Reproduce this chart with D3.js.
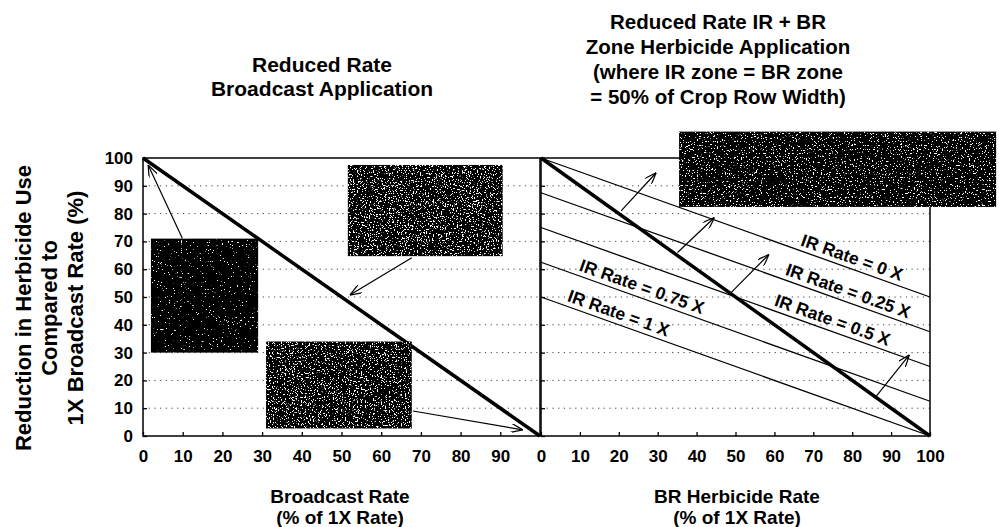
<!DOCTYPE html>
<html>
<head>
<meta charset="utf-8">
<script src="https://cdn.jsdelivr.net/npm/d3@7"></script>
<style>
  body { margin: 0; background: #fff; }
  svg text { font-family: "Liberation Sans", Arial, sans-serif; font-weight: bold; fill: #000; }
</style>
</head>
<body>
<div id="chart"></div>
<script>
// tick values
const xTicksLeft = [0, 10, 20, 30, 40, 50, 60, 70, 80, 90];
const xTicksRight = [0, 10, 20, 30, 40, 50, 60, 70, 80, 90, 100];
const yTicks = [0, 10, 20, 30, 40, 50, 60, 70, 80, 90, 100];
const gridTicks = [10, 20, 30, 40, 50, 60, 70, 80, 90];

// reduced rate broadcast: reduction at 0% and 100% rate
const broadcastRate = [0, 100];
const broadcastReduction = [100, 0];

// IR + BR zone lines, reduction at BR rate 0 and 100
const irLabels = ["IR Rate = 0 X", "IR Rate = 0.25 X", "IR Rate = 0.5 X", "IR Rate = 0.75 X", "IR Rate = 1 X"];
const irAtBr0 = [100, 87.5, 75, 62.5, 50];
const irAtBr100 = [50, 37.5, 25, 12.5, 0];
const irLabelAt = [79, 78, 74, 25, 19];

// callout boxes [x0, y0, x1, y1] in data units
const leftBoxes = [[2, 30, 29, 71], [51.6, 64.7, 90.6, 97.5], [31, 2.7, 67.7, 34]];
const rightBoxes = [[35.5, 82.4, 117, 109.5]];
const boxDensity = [0.7, 0.6, 0.6, 0.64];

// arrows [fromX, fromY, toX, toY]
const leftArrows = [[9.9, 71.1, 1.3, 97.5], [67.7, 64.1, 52.1, 50.7], [68, 9, 95.7, 2.2]];
const rightArrows = [[20.6, 81, 29.6, 94.7], [35.1, 66, 44.6, 78.6], [48.8, 51.5, 58.6, 65.3], [86.1, 14.2, 94.7, 29.2]];

let svg = d3.select("#chart")
  .append("svg")
  .attr("width", 999)
  .attr("height", 527);

let defs = svg.append("defs");

defs.append("marker")
  .attr("id", "arrow")
  .attr("viewBox", "0 0 12 9")
  .attr("refX", 12)
  .attr("refY", 4.5)
  .attr("markerWidth", 12)
  .attr("markerHeight", 9)
  .attr("markerUnits", "userSpaceOnUse")
  .attr("orient", "auto")
  .append("path")
  .attr("d", "M0,0 L12,4.5 L0,9")
  .attr("fill", "none")
  .attr("stroke", "#000")
  .attr("stroke-width", 1.2);

// speckled fill for the scanned callout boxes
boxDensity.forEach(function(t, i) {
  let f = defs.append("filter")
    .attr("id", "speck" + i)
    .attr("color-interpolation-filters", "sRGB");
  f.append("feTurbulence")
    .attr("type", "fractalNoise")
    .attr("baseFrequency", 0.75)
    .attr("numOctaves", 2)
    .attr("seed", i + 2)
    .attr("result", "noise");
  f.append("feColorMatrix")
    .attr("in", "noise")
    .attr("type", "matrix")
    .attr("values", "0 0 0 0 1  0 0 0 0 1  0 0 0 0 1  20 0 0 0 " + (-20 * t))
    .attr("result", "dots");
  f.append("feComposite")
    .attr("in", "dots")
    .attr("in2", "SourceGraphic")
    .attr("operator", "in")
    .attr("result", "clipped");
  let m = f.append("feMerge");
  m.append("feMergeNode").attr("in", "SourceGraphic");
  m.append("feMergeNode").attr("in", "clipped");
});

let y = d3.scaleLinear().domain([0, 100]).range([436, 158]);
let xL = d3.scaleLinear().domain([0, 100]).range([143, 540]);
let xR = d3.scaleLinear().domain([0, 100]).range([541, 930]);

function gridAndFrame(x) {
  svg.append("g")
    .selectAll("line")
    .data(gridTicks)
    .enter()
    .append("line")
    .attr("x1", x(0))
    .attr("x2", x(100))
    .attr("y1", d => y(d))
    .attr("y2", d => y(d))
    .attr("stroke", "#444")
    .attr("stroke-width", 1)
    .attr("stroke-dasharray", "1.2,4.5");

  svg.append("rect")
    .attr("x", x(0))
    .attr("y", y(100))
    .attr("width", x(100) - x(0))
    .attr("height", y(0) - y(100))
    .attr("fill", "none")
    .attr("stroke", "#000")
    .attr("stroke-width", 1.5);
}

gridAndFrame(xL);
gridAndFrame(xR);

// axes
svg.append("g")
  .attr("transform", "translate(0," + y(0) + ")")
  .call(d3.axisBottom(xL).tickValues(xTicksLeft).tickSize(-4).tickPadding(14))
  .call(g => g.select(".domain").remove());

svg.append("g")
  .attr("transform", "translate(0," + y(0) + ")")
  .call(d3.axisBottom(xR).tickValues(xTicksRight).tickSize(-4).tickPadding(14))
  .call(g => g.select(".domain").remove());

svg.append("g")
  .attr("transform", "translate(" + xL(0) + ",0)")
  .call(d3.axisLeft(y).tickValues(yTicks).tickSize(-4).tickPadding(10))
  .call(g => g.select(".domain").remove());

svg.append("g")
  .attr("transform", "translate(" + xR(0) + ",0)")
  .call(d3.axisLeft(y).tickValues(yTicks).tickSize(-4).tickFormat(""))
  .call(g => g.select(".domain").remove());

svg.selectAll(".tick text")
  .style("font-size", "17px")
  .style("font-family", "'Liberation Sans', Arial, sans-serif")
  .style("font-weight", "bold");
svg.selectAll(".tick line").attr("stroke-width", 1.3);

// left panel diagonal
let line = d3.line().x(d => d[0]).y(d => d[1]);

svg.append("path")
  .attr("d", line(broadcastRate.map((r, i) => [xL(r), y(broadcastReduction[i])])))
  .attr("stroke", "#000")
  .attr("stroke-width", 3.5)
  .attr("fill", "none");

// right panel IR lines
svg.append("g")
  .selectAll("line")
  .data(irAtBr0)
  .enter()
  .append("line")
  .attr("x1", xR(0))
  .attr("x2", xR(100))
  .attr("y1", d => y(d))
  .attr("y2", (d, i) => y(irAtBr100[i]))
  .attr("stroke", "#000")
  .attr("stroke-width", 1.3);

svg.append("path")
  .attr("d", line(broadcastRate.map((r, i) => [xR(r), y(broadcastReduction[i])])))
  .attr("stroke", "#000")
  .attr("stroke-width", 3.5)
  .attr("fill", "none");

let angle = Math.atan2(y(irAtBr100[0]) - y(irAtBr0[0]), xR(100) - xR(0)) * 180 / Math.PI;

svg.append("g")
  .selectAll("text")
  .data(irLabels)
  .enter()
  .append("text")
  .attr("transform", function(d, i) {
    let v = irAtBr0[i] + (irAtBr100[i] - irAtBr0[i]) * irLabelAt[i] / 100;
    return "translate(" + xR(irLabelAt[i]) + "," + y(v) + ") rotate(" + angle + ")";
  })
  .attr("dy", -5)
  .attr("text-anchor", "middle")
  .style("font-size", "17.5px")
  .text(d => d);

// callout boxes
function drawBoxes(boxes, x, start) {
  boxes.forEach(function(b, i) {
    svg.append("rect")
      .attr("x", x(b[0]))
      .attr("y", y(b[3]))
      .attr("width", x(b[2]) - x(b[0]))
      .attr("height", y(b[1]) - y(b[3]))
      .attr("fill", "#000")
      .attr("filter", "url(#speck" + (start + i) + ")");
  });
}
drawBoxes(leftBoxes, xL, 0);
drawBoxes(rightBoxes, xR, 3);

function drawArrows(arrows, x) {
  svg.append("g")
    .selectAll("line")
    .data(arrows)
    .enter()
    .append("line")
    .attr("x1", d => x(d[0]))
    .attr("y1", d => y(d[1]))
    .attr("x2", d => x(d[2]))
    .attr("y2", d => y(d[3]))
    .attr("stroke", "#000")
    .attr("stroke-width", 1.2)
    .attr("marker-end", "url(#arrow)");
}
drawArrows(leftArrows, xL);
drawArrows(rightArrows, xR);

// titles
function multiline(lines, cx, y0, step, size) {
  lines.forEach(function(t, i) {
    svg.append("text")
      .attr("x", cx)
      .attr("y", y0 + i * step)
      .attr("text-anchor", "middle")
      .style("font-size", size + "px")
      .text(t);
  });
}

multiline(["Reduced Rate", "Broadcast Application"], 322, 72, 24, 21);
multiline(["Reduced Rate IR + BR", "Zone Herbicide Application", "(where IR zone = BR zone", "= 50% of Crop Row Width)"], 718, 29, 25, 20.5);
multiline(["Broadcast Rate", "(% of 1X Rate)"], 340, 503, 21, 19);
multiline(["BR Herbicide Rate", "(% of 1X Rate)"], 737, 503, 21, 19);

["Reduction in Herbicide Use", "Compared to", "1X Broadcast Rate (%)"].forEach(function(t, i) {
  svg.append("text")
    .attr("transform", "translate(" + (31 + i * 26) + ",308) rotate(-90)")
    .attr("text-anchor", "middle")
    .style("font-size", "22px")
    .text(t);
});
</script>
</body>
</html>
